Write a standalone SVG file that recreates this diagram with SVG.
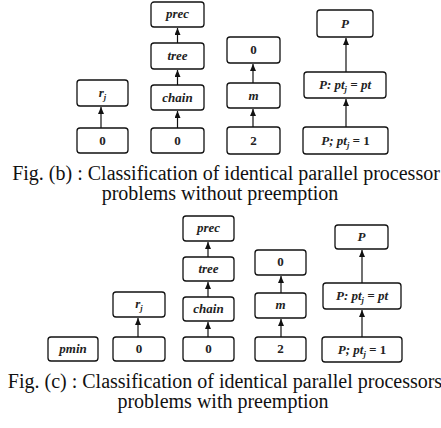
<svg xmlns="http://www.w3.org/2000/svg" width="441" height="428" viewBox="0 0 441 428">
<style>
.b{fill:#fff;stroke:#111;stroke-width:1.3}
.t{font-family:"Liberation Serif","DejaVu Serif",serif;font-style:italic;font-weight:bold;font-size:13px;fill:#222;text-anchor:middle}
.n{font-family:"Liberation Serif","DejaVu Serif",serif;font-weight:bold;font-size:13px;fill:#222;text-anchor:middle}
.c{font-family:"Liberation Serif","Times New Roman",serif;font-size:20px;fill:#111;text-anchor:middle}
.l{stroke:#111;stroke-width:1.2;fill:none;marker-end:url(#ah)}
</style>
<defs>
<marker id="ah" viewBox="0 0 7 6" refX="7" refY="3" markerWidth="7" markerHeight="6" markerUnits="userSpaceOnUse" orient="auto">
<path d="M0,0 L7,3 L0,6 Z" fill="#111"/>
</marker>
</defs>
<g id="connectors">
<line class="l" x1="101" y1="128" x2="101" y2="107"/>
<line class="l" x1="177.5" y1="128" x2="177.5" y2="111"/>
<line class="l" x1="177.5" y1="85" x2="177.5" y2="70"/>
<line class="l" x1="177.5" y1="43" x2="177.5" y2="28"/>
<line class="l" x1="253" y1="127" x2="253" y2="109"/>
<line class="l" x1="253" y1="83" x2="253" y2="64"/>
<line class="l" x1="346" y1="127" x2="346" y2="99"/>
<line class="l" x1="346" y1="72" x2="346" y2="38"/>
<line class="l" x1="138" y1="337" x2="138" y2="318"/>
<line class="l" x1="208" y1="337" x2="208" y2="322"/>
<line class="l" x1="208" y1="297" x2="208" y2="282"/>
<line class="l" x1="208" y1="257" x2="208" y2="242"/>
<line class="l" x1="281" y1="337" x2="281" y2="319"/>
<line class="l" x1="281" y1="293" x2="281" y2="276"/>
<line class="l" x1="362" y1="337" x2="362" y2="310"/>
<line class="l" x1="362" y1="283" x2="362" y2="250"/>
</g>
<g id="b_rj"><rect class="b" x="77" y="80" width="51" height="26" rx="3"/><text class="t" x="102.5" y="97">r<tspan font-size="8.5" dy="3">j</tspan></text></g>
<g id="b_0a"><rect class="b" x="77" y="128" width="51" height="25" rx="3"/><text class="n" x="102.5" y="145">0</text></g>
<g id="b_prec"><rect class="b" x="151" y="2" width="53" height="25" rx="3"/><text class="t" x="177.5" y="18">prec</text></g>
<g id="b_tree"><rect class="b" x="151" y="43" width="53" height="26" rx="3"/><text class="t" x="177.5" y="60">tree</text></g>
<g id="b_chain"><rect class="b" x="151" y="85" width="53" height="25" rx="3"/><text class="t" x="177.5" y="102">chain</text></g>
<g id="b_0b"><rect class="b" x="151" y="128" width="53" height="25" rx="3"/><text class="n" x="177.5" y="145">0</text></g>
<g id="b_0c"><rect class="b" x="227" y="37" width="53" height="26" rx="3"/><text class="n" x="253.5" y="54">0</text></g>
<g id="b_m"><rect class="b" x="227" y="83" width="53" height="25" rx="3"/><text class="t" x="253.5" y="100">m</text></g>
<g id="b_2"><rect class="b" x="227" y="127" width="53" height="27" rx="3"/><text class="n" x="253.5" y="145">2</text></g>
<g id="b_P"><rect class="b" x="317" y="10" width="56" height="27" rx="3"/><text class="t" x="345" y="28">P</text></g>
<g id="b_Ppt"><rect class="b" x="304" y="72" width="82" height="26" rx="3"/><text class="t" x="345" y="89">P: pt<tspan font-size="8.5" dy="3">j</tspan><tspan dy="-3"> = pt</tspan></text></g>
<g id="b_P1"><rect class="b" x="303" y="127" width="85" height="27" rx="3"/><text class="t" x="345.5" y="145">P; pt<tspan font-size="8.5" dy="3">j</tspan><tspan dy="-3"> = </tspan><tspan font-style="normal">1</tspan></text></g>
<text class="c" x="226" y="180">Fig. (b) : Classification of identical parallel processor</text>
<text class="c" x="220" y="200">problems without preemption</text>
<g id="c_pmin"><rect class="b" x="48" y="337" width="50" height="24" rx="3"/><text class="t" x="73" y="353">pmin</text></g>
<g id="c_rj"><rect class="b" x="113" y="292" width="52" height="25" rx="3"/><text class="t" x="139" y="308">r<tspan font-size="8.5" dy="3">j</tspan></text></g>
<g id="c_0a"><rect class="b" x="113" y="337" width="52" height="24" rx="3"/><text class="n" x="139" y="353">0</text></g>
<g id="c_prec"><rect class="b" x="183" y="216" width="51" height="25" rx="3"/><text class="t" x="208.5" y="232">prec</text></g>
<g id="c_tree"><rect class="b" x="183" y="257" width="51" height="24" rx="3"/><text class="t" x="208.5" y="273">tree</text></g>
<g id="c_chain"><rect class="b" x="183" y="297" width="51" height="24" rx="3"/><text class="t" x="208.5" y="313">chain</text></g>
<g id="c_0b"><rect class="b" x="183" y="337" width="51" height="24" rx="3"/><text class="n" x="208.5" y="353">0</text></g>
<g id="c_0c"><rect class="b" x="255" y="250" width="51" height="25" rx="3"/><text class="n" x="280.5" y="266">0</text></g>
<g id="c_m"><rect class="b" x="255" y="293" width="51" height="25" rx="3"/><text class="t" x="280.5" y="309">m</text></g>
<g id="c_2"><rect class="b" x="255" y="337" width="51" height="24" rx="3"/><text class="n" x="280.5" y="353">2</text></g>
<g id="c_P"><rect class="b" x="335" y="225" width="53" height="24" rx="3"/><text class="t" x="361.5" y="241">P</text></g>
<g id="c_Ppt"><rect class="b" x="323" y="283" width="78" height="26" rx="3"/><text class="t" x="362" y="300">P: pt<tspan font-size="8.5" dy="3">j</tspan><tspan dy="-3"> = pt</tspan></text></g>
<g id="c_P1"><rect class="b" x="322" y="337" width="80" height="25" rx="3"/><text class="t" x="362" y="354">P; pt<tspan font-size="8.5" dy="3">j</tspan><tspan dy="-3"> = </tspan><tspan font-style="normal">1</tspan></text></g>
<text class="c" x="225" y="388">Fig. (c) : Classification of identical parallel processors</text>
<text class="c" x="223" y="408">problems with preemption</text>
</svg>
